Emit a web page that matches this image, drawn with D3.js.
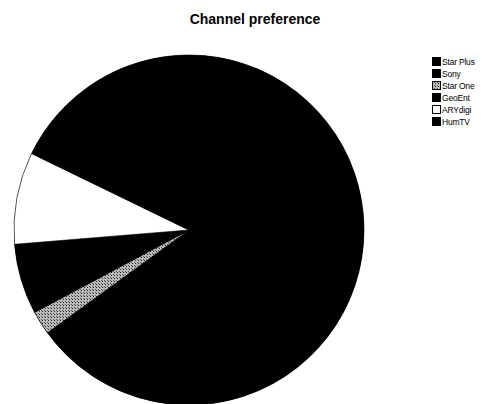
<!DOCTYPE html>
<html><head><meta charset="utf-8">
<script src="https://cdn.jsdelivr.net/npm/d3@7"></script>
<style>html,body{margin:0;padding:0;background:#fff;}</style>
</head><body>
<script>
const categories = ["Star Plus","Sony","Star One","GeoEnt","ARYdigi","HumTV"];
const values = [42, 23, 2.2, 6.5, 8.5, 17.8];
const fills = ["#000","#000","url(#hatch)","#000","#fff","#000"];

const W = 482, H = 404;
const svg = d3.select("body").append("svg").attr("width", W).attr("height", H);

const defs = svg.append("defs");
const pat = defs.append("pattern").attr("id","hatch").attr("patternUnits","userSpaceOnUse")
  .attr("width",3).attr("height",3);
pat.append("rect").attr("width",3).attr("height",3).attr("fill","#bbb");
pat.append("rect").attr("x",0).attr("y",0).attr("width",1).attr("height",1).attr("fill","#222");
pat.append("rect").attr("x",2).attr("y",2).attr("width",1).attr("height",1).attr("fill","#555");

svg.append("text").attr("x",255).attr("y",24).attr("text-anchor","middle")
  .attr("font-family","Liberation Sans, Arial, sans-serif").attr("font-weight","bold")
  .attr("font-size",14).text("Channel preference");

const cx = 189, cy = 230, r = 175;
const pie = d3.pie().sort(null).value(d => d.v);
const arc = d3.arc().innerRadius(0).outerRadius(r);
const data = categories.map((c,i) => ({c, v: values[i], f: fills[i]}));
const g = svg.append("g").attr("transform",`translate(${cx},${cy})`);
g.append("circle").attr("r", r).attr("fill", "#000");
g.selectAll("path").data(pie(data)).join("path")
  .attr("d", arc).attr("fill", d => d.data.f)
  .attr("stroke", "#000").attr("stroke-width", 0.6);

const leg = svg.append("g").attr("transform","translate(432,56)");
const y = d3.scaleBand().domain(categories).range([0, 72]);
const items = leg.selectAll("g").data(data).join("g")
  .attr("transform", d => `translate(0,${y(d.c)})`);
items.append("rect").attr("x",0.5).attr("y",1.5).attr("width",8).attr("height",8)
  .attr("fill", d => d.f).attr("stroke","#000").attr("stroke-width",1);
items.append("text").attr("x",10).attr("y",8.5)
  .attr("font-family","Liberation Sans, Arial, sans-serif").attr("font-size",8.5)
  .attr("letter-spacing",-0.2).text(d => d.c);
</script>
</body></html>
